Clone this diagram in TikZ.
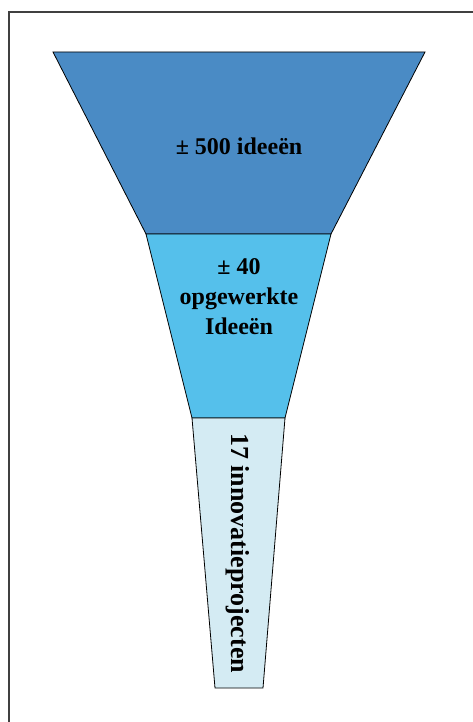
\documentclass[tikz,border=0pt]{standalone}
\usepackage{fontspec}
\setmainfont{Liberation Serif}
\definecolor{ideablue}{RGB}{74,139,197}
\definecolor{workedblue}{RGB}{85,192,235}
\definecolor{projectblue}{RGB}{212,235,243}
\begin{document}
\begin{tikzpicture}[x=1pt,y=-1pt,
		stage/.style={draw=black,line width=0.8pt,line join=miter},
		label/.style={font=\bfseries\fontsize{24}{30}\selectfont,align=center,inner sep=0pt}]
		\useasboundingbox (0,0) rectangle (472,722);
		\draw[line width=1.4pt,black!75] (9,730) -- (9,12) -- (480,12);
		\begin{scope}
			\draw[stage,fill=ideablue] (53,52) -- (425,52) -- (331,234) -- (146,234) -- cycle;
			\draw[stage,fill=workedblue] (146,234) -- (331,234) -- (285,418) -- (192,418) -- cycle;
			\draw[stage,fill=projectblue] (192,418) -- (285,418) -- (263,688) -- (215,688) -- cycle;
		\end{scope}
		\node[label] (ideas) at (239,146) {± 500 ideeën};
		\node[label] (worked) at (239,297) {± 40\\opgewerkte\\Ideeën};
		\node[label,font=\bfseries\fontsize{26}{30}\selectfont,rotate=-90] (projects) at (238,553) {17 innovatieprojecten};
	\end{tikzpicture}
\end{document}
